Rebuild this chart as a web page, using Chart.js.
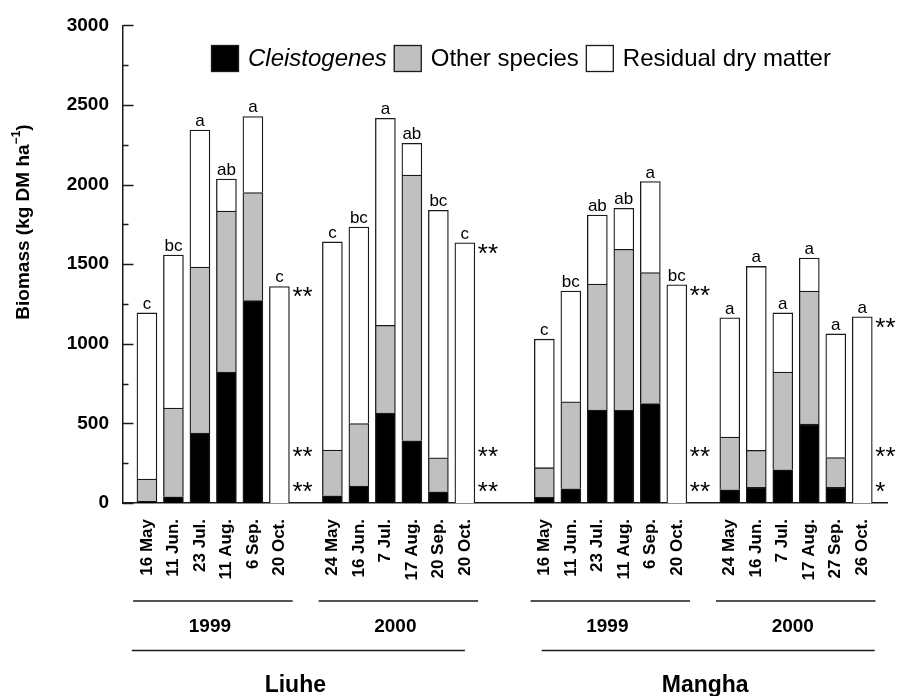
<!DOCTYPE html>
<html>
<head>
<meta charset="utf-8">
<script src="https://cdn.jsdelivr.net/npm/chart.js@4/dist/chart.umd.min.js"></script>
<style>
html,body{margin:0;padding:0;background:#fff;}
canvas{display:block;}
</style>
</head>
<body>
<canvas id="c" width="899" height="696"></canvas>
<script>
// ---------------- DATA ----------------
const dateLabels = [
  "16 May","11 Jun.","23 Jul.","11 Aug.","6 Sep.","20 Oct.",
  "24 May","16 Jun.","7 Jul.","17 Aug.","20 Sep.","20 Oct.",
  "16 May","11 Jun.","23 Jul.","11 Aug.","6 Sep.","20 Oct.",
  "24 May","16 Jun.","7 Jul.","17 Aug.","27 Sep.","26 Oct."
];
const cleistogenes = [10,39,439,822,1271,0, 45,107,565,391,70,0, 35,89,584,582,625,0, 83,99,209,495,99,0];
const otherSpecies = [141,557,1043,1012,679,0, 288,392,551,1669,214,0, 187,547,791,1012,822,0, 331,232,613,836,187,0];
const residualDryMatter = [1043,961,860,201,478,1360, 1307,1234,1300,199,1554,1635, 807,695,434,257,572,1371, 749,1155,372,207,776,1170];
const sigLetters = ["c","bc","a","ab","a","c", "c","bc","a","ab","bc","c", "c","bc","ab","ab","a","bc", "a","a","a","a","a","a"];
const years = ["1999","2000","1999","2000"];
const sites = ["Liuhe","Mangha"];
const seriesNames = ["Cleistogenes","Other species","Residual dry matter"];
// significance marks beside the last bar of each year group (top = total, mid, low)
const sigTop = ["**","**","**","**"];
const sigMid = ["**","**","**","**"];
const sigLow = ["**","**","**","*"];
const sigMidLevel = 320;
const sigLowLevel = 100;
const yTicks = [0,500,1000,1500,2000,2500,3000];

// ---------------- LAYOUT ----------------
const FONT = "'Liberation Sans', Arial, Helvetica, sans-serif";
const groupStart = [0,7,15,22];
const perGroup = 6;
const slotOf = i => groupStart[Math.floor(i/perGroup)] + (i % perGroup);
const slots = dateLabels.map((_, i) => slotOf(i));
const toPts = arr => arr.map((v, i) => ({x: slotOf(i), y: v === 0 ? null : v}));
const totals = dateLabels.map((_, i) => cleistogenes[i] + otherSpecies[i] + residualDryMatter[i]);
const fills = ['#000000', '#c0c0c0', '#ffffff'];
const INK = '#1a1a1a';

const overlay = {
  id: 'overlay',
  afterDatasetsDraw(chart) {
    const ctx = chart.ctx, xs = chart.scales.x, ys = chart.scales.y, ca = chart.chartArea;
    ctx.save();
    // inward y ticks
    ctx.strokeStyle = INK; ctx.lineWidth = 1.5;
    for (let v = 0; v <= 3000; v += 250) {
      const y = Math.round(ys.getPixelForValue(v)) + 0.5;
      const L = (v % 500 === 0) ? 10.5 : 5.5;
      ctx.beginPath(); ctx.moveTo(ca.left, y); ctx.lineTo(ca.left + L, y); ctx.stroke();
    }
    // letters above bars
    ctx.fillStyle = '#000';
    ctx.font = `17px ${FONT}`;
    ctx.textAlign = 'center'; ctx.textBaseline = 'alphabetic';
    sigLetters.forEach((t, i) => {
      ctx.fillText(t, xs.getPixelForValue(slotOf(i)), ys.getPixelForValue(totals[i]) - 4);
    });
    // asterisks
    ctx.font = `26px ${FONT}`;
    ctx.textAlign = 'left';
    const drawStar = (txt, x, cy) => {
      const m = ctx.measureText('*');
      const base = cy - (m.actualBoundingBoxDescent - m.actualBoundingBoxAscent) / 2;
      ctx.fillText(txt, x, base);
    };
    for (let g = 0; g < groupStart.length; g++) {
      const idx = g * perGroup + perGroup - 1;
      const x = xs.getPixelForValue(slotOf(idx)) + 13;
      drawStar(sigTop[g], x, ys.getPixelForValue(totals[idx]) + 6);
      drawStar(sigMid[g], x, ys.getPixelForValue(sigMidLevel));
      drawStar(sigLow[g], x, ys.getPixelForValue(sigLowLevel));
    }
    // year lines and labels
    ctx.strokeStyle = INK; ctx.lineWidth = 1.3;
    ctx.font = `bold 19px ${FONT}`; ctx.textAlign = 'center';
    for (let g = 0; g < groupStart.length; g++) {
      const a = xs.getPixelForValue(groupStart[g] - 0.52);
      const b = xs.getPixelForValue(groupStart[g] + perGroup - 1 + 0.5);
      ctx.beginPath(); ctx.moveTo(a, 601); ctx.lineTo(b, 601); ctx.stroke();
      ctx.fillText(years[g], (a + b) / 2 - 3, 632);
    }
    // site lines and labels
    ctx.font = `bold 23px ${FONT}`;
    const siteSpan = [[groupStart[0] - 0.57, groupStart[1] + perGroup - 1 + 0.0],
                      [groupStart[2] - 0.1, groupStart[3] + perGroup - 1 + 0.47]];
    sites.forEach((s, k) => {
      const a = xs.getPixelForValue(siteSpan[k][0]);
      const b = xs.getPixelForValue(siteSpan[k][1]);
      ctx.beginPath(); ctx.moveTo(a, 650.5); ctx.lineTo(b, 650.5); ctx.stroke();
      ctx.fillText(s, (a + b) / 2 - 3, 692);
    });
    // y axis title with superscript
    ctx.save();
    ctx.translate(24, 222);
    ctx.rotate(-Math.PI / 2);
    const main = 'Biomass (kg DM ha';
    const sup = '\u22121';
    const close = ')';
    ctx.font = `bold 19px ${FONT}`;
    const w1 = ctx.measureText(main).width, w3 = ctx.measureText(close).width;
    ctx.font = `bold 12px ${FONT}`;
    const w2 = ctx.measureText(sup).width;
    const total = w1 + w2 + w3;
    let x0 = -total / 2;
    ctx.textAlign = 'left'; ctx.textBaseline = 'middle';
    ctx.font = `bold 19px ${FONT}`;
    ctx.fillText(main, x0, 0);
    ctx.font = `bold 12px ${FONT}`;
    ctx.fillText(sup, x0 + w1, -7);
    ctx.font = `bold 19px ${FONT}`;
    ctx.fillText(close, x0 + w1 + w2, 0);
    ctx.restore();
    // legend
    ctx.textAlign = 'left'; ctx.textBaseline = 'middle';
    let lx = 211;
    const ly = 45, box = 27;
    seriesNames.forEach((name, k) => {
      ctx.fillStyle = fills[k];
      ctx.fillRect(lx, ly, box + 1, box);
      ctx.strokeStyle = INK; ctx.lineWidth = 1.3;
      ctx.strokeRect(lx + 0.5, ly + 0.5, box, box - 1);
      lx += box + 10;
      ctx.fillStyle = '#000';
      ctx.font = (k === 0 ? 'italic ' : '') + `24px ${FONT}`;
      ctx.fillText(name, lx, ly + box / 2 + 1);
      lx += ctx.measureText(name).width + 7;
    });
    ctx.restore();
  }
};

const mkSet = (label, arr, k) => ({
  label, data: toPts(arr), backgroundColor: fills[k], borderColor: INK,
  borderWidth: 1.3, borderSkipped: 'start', barThickness: 20
});

new Chart(document.getElementById('c'), {
  type: 'bar',
  data: {
    datasets: [
      mkSet(seriesNames[0], cleistogenes, 0),
      mkSet(seriesNames[1], otherSpecies, 1),
      mkSet(seriesNames[2], residualDryMatter, 2)
    ]
  },
  options: {
    responsive: false,
    animation: false,
    layout: {padding: {top: 20, right: 10, left: 0, bottom: 0}},
    plugins: {legend: {display: false}, tooltip: {enabled: false}},
    scales: {
      x: {
        type: 'linear', min: -0.903, max: 27.94, stacked: true, offset: false,
        grid: {display: false, drawTicks: false, offset: false},
        border: {display: true, color: INK, width: 1.5},
        afterBuildTicks: s => { s.ticks = slots.map(v => ({value: v})); },
        afterFit: s => { s.height = 193; },
        ticks: {
          autoSkip: false, minRotation: 90, maxRotation: 90, padding: 16,
          color: '#000', font: {family: FONT, size: 17, weight: 'bold'},
          callback: (v, i) => dateLabels[i]
        }
      },
      y: {
        min: 0, max: 3000, stacked: true,
        grid: {display: false, drawTicks: false},
        border: {display: true, color: INK, width: 1.5},
        afterBuildTicks: s => { s.ticks = yTicks.map(v => ({value: v})); },
        afterFit: s => { s.width = 123; },
        ticks: {padding: 14, color: '#000', font: {family: FONT, size: 19, weight: 'bold'},
                callback: v => String(v)}
      }
    }
  },
  plugins: [overlay]
});
</script>
</body>
</html>
